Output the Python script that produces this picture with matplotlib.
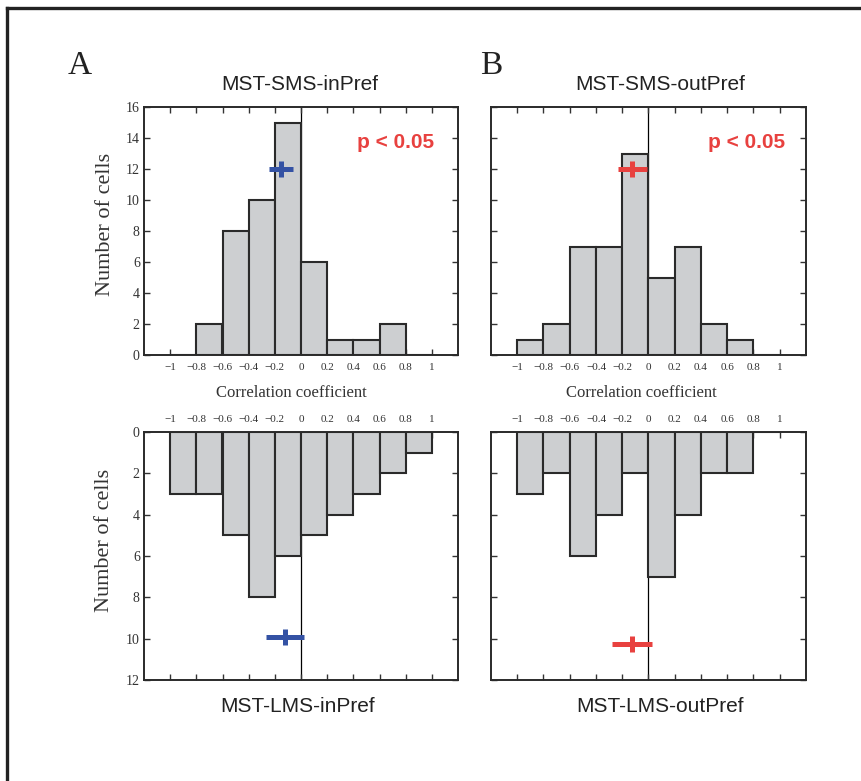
import numpy as np
import matplotlib
matplotlib.use("Agg")
import matplotlib.pyplot as plt
from matplotlib.lines import Line2D

# Data: histogram counts per 0.2-wide bin of correlation coefficient
bin_left = [-1.0, -0.8, -0.6, -0.4, -0.2, 0.0, 0.2, 0.4, 0.6, 0.8]
sms_in = [0, 2, 8, 10, 15, 6, 1, 1, 2, 0]
sms_out = [1, 2, 7, 7, 13, 5, 7, 2, 1, 0]
lms_in = [3, 3, 5, 8, 6, 5, 4, 3, 2, 1]
lms_out = [3, 2, 6, 4, 2, 7, 4, 2, 2, 0]

# mean markers: (mean, low, high, height)
mean_sms_in = (-0.15, -0.245, -0.06, 12)
mean_sms_out = (-0.125, -0.23, -0.01, 12)
mean_lms_in = (-0.12, -0.27, 0.02, 9.9)
mean_lms_out = (-0.125, -0.28, 0.03, 10.25)

titles = ["MST-SMS-inPref", "MST-SMS-outPref", "MST-LMS-inPref", "MST-LMS-outPref"]
xticks = [-1, -0.8, -0.6, -0.4, -0.2, 0, 0.2, 0.4, 0.6, 0.8, 1]
xticklabels = ["\u22121", "\u22120.8", "\u22120.6", "\u22120.4", "\u22120.2", "0",
               "0.2", "0.4", "0.6", "0.8", "1"]

W, H = 862, 781
BLUE = "#3452a4"
RED = "#e8413f"
EDGE = "#2a2a2a"
TXT = "#333333"
SERIF = "Liberation Serif"
SANS = "Liberation Sans"

fig = plt.figure(figsize=(W / 100, H / 100), dpi=100)


def px_axes(x0, y0, x1, y1):
    return fig.add_axes([x0 / W, 1 - y1 / H, (x1 - x0) / W, (y1 - y0) / H])


def fx(x):
    return x / W


def fy(y):
    return 1 - y / H


def draw_panel(ax, counts, mean, color, ymax, top_panel, show_ylabels):
    ax.axvline(0, color="black", lw=0.9, zorder=1)
    ax.bar(bin_left, counts, width=0.2, align="edge", color="#cdcfd1",
           edgecolor=EDGE, linewidth=1.5, zorder=2)
    m, lo, hi, h = mean
    ax.plot([lo, hi], [h, h], color=color, lw=3.6, solid_capstyle="butt", zorder=4)
    ax.plot([m], [h], marker="|", markersize=12, mew=3.6, color=color, zorder=4)
    ax.set_xlim(-1.2, 1.2)
    ax.set_ylim(0, ymax)
    if not top_panel:
        ax.invert_yaxis()
    ax.set_xticks(xticks)
    ax.set_xticklabels(xticklabels, fontsize=8, fontfamily=SERIF, color=TXT)
    ax.set_yticks(np.arange(0, ymax + 1, 2))
    ax.set_yticklabels([str(v) for v in range(0, ymax + 1, 2)], fontsize=10,
                       fontfamily=SERIF, color=TXT)
    ax.tick_params(axis="both", direction="in", length=4, width=1.0, color=TXT,
                   top=True, bottom=True, left=True, right=True)
    ax.tick_params(axis="x", pad=6)
    ax.tick_params(axis="y", pad=3, labelleft=show_ylabels)
    if not top_panel:
        ax.tick_params(axis="x", labeltop=True, labelbottom=False)
    for s in ax.spines.values():
        s.set_color(EDGE)
        s.set_linewidth(1.4)


ax1 = px_axes(144, 107, 458, 355)
ax2 = px_axes(491, 107, 806, 355)
ax3 = px_axes(144, 432, 458, 680)
ax4 = px_axes(491, 432, 806, 680)

draw_panel(ax1, sms_in, mean_sms_in, BLUE, 16, True, True)
draw_panel(ax2, sms_out, mean_sms_out, RED, 16, True, False)
draw_panel(ax3, lms_in, mean_lms_in, BLUE, 12, False, True)
draw_panel(ax4, lms_out, mean_lms_out, RED, 12, False, False)

# titles and labels
fig.text(fx(300), fy(84), titles[0], fontsize=15, fontfamily=SANS, color="#222222",
         ha="center", va="center")
fig.text(fx(660), fy(84), titles[1], fontsize=15, fontfamily=SANS, color="#222222",
         ha="center", va="center")
fig.text(fx(298), fy(707), titles[2], fontsize=15, fontfamily=SANS, color="#222222",
         ha="center", va="center")
fig.text(fx(660), fy(707), titles[3], fontsize=15, fontfamily=SANS, color="#222222",
         ha="center", va="center")

fig.text(fx(80), fy(66), "A", fontsize=24, fontfamily=SERIF, color="#222222",
         ha="center", va="center")
fig.text(fx(491), fy(66), "B", fontsize=24, fontfamily=SERIF, color="#222222",
         ha="center", va="center")

fig.text(fx(396), fy(143), "p < 0.05", fontsize=15, fontweight="bold",
         fontfamily=SANS, color=RED, ha="center", va="center")
fig.text(fx(747), fy(143), "p < 0.05", fontsize=15, fontweight="bold",
         fontfamily=SANS, color=RED, ha="center", va="center")

fig.text(fx(291), fy(393), "Correlation coefficient", fontsize=12, fontfamily=SERIF,
         color=TXT, ha="center", va="center")
fig.text(fx(641), fy(393), "Correlation coefficient", fontsize=12, fontfamily=SERIF,
         color=TXT, ha="center", va="center")

fig.text(fx(106), fy(224), "Number of cells", fontsize=16, fontfamily=SERIF,
         color=TXT, ha="center", va="center", rotation=90)
fig.text(fx(105), fy(540), "Number of cells", fontsize=16, fontfamily=SERIF,
         color=TXT, ha="center", va="center", rotation=90)

# outer frame (top and left edges visible)
fig.add_artist(Line2D([fx(7), 1.0], [fy(8), fy(8)], color="#222222", lw=2.4))
fig.add_artist(Line2D([fx(7), fx(7)], [fy(8), 0.0], color="#222222", lw=2.4))

fig.savefig("out.png", dpi=100)
